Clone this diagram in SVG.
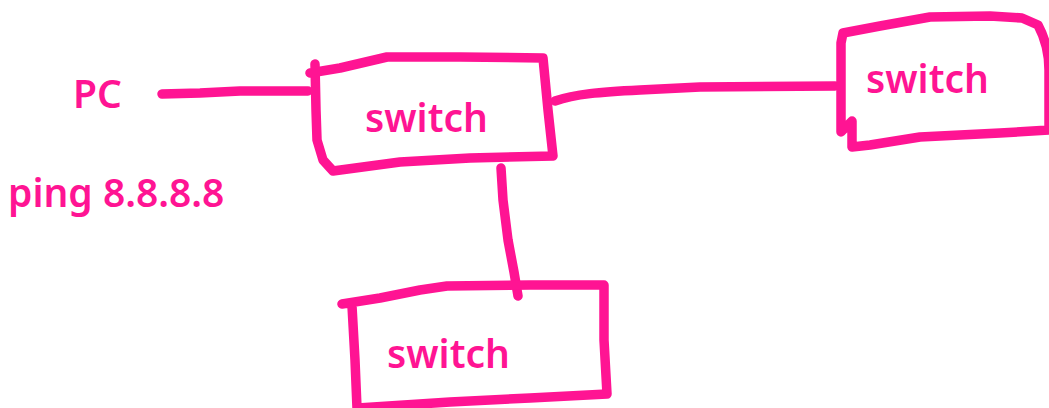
<svg xmlns="http://www.w3.org/2000/svg" width="1049" height="408" viewBox="0 0 1049 408">
  <style>
    .ink { fill: none; stroke: #ff1493; stroke-width: 9.5; stroke-linecap: round; stroke-linejoin: round; }
    .lbl { fill: #ff1493; font-family: "Noto Sans", "Open Sans", sans-serif; font-size: 39px; font-weight: 600; }
  </style>
  <rect width="1049" height="408" fill="#ffffff"/>

  <!-- labels beside the PC -->
  <g id="pc">
    <text class="lbl" x="73" y="108">PC</text>
  </g>
  <g id="ping-note">
    <text class="lbl" x="8" y="207">ping 8.8.8.8</text>
  </g>

  <!-- links between devices -->
  <g id="connectors">
    <path class="ink" d="M162,94 L200,93 L240,91 L308,91"/>
    <path class="ink" d="M555,101 C575,94 600,92 640,90 L700,87 L835,86"/>
    <path class="ink" d="M501,168 L503,200 L508,240 L514,272 L518,296"/>
  </g>

  <!-- central switch -->
  <g id="switch-main">
    <path class="ink" d="M310,73 L340,68 L387,57 L460,57 L543,58 L548,110 L553,156 L470,158 L400,162 L333,171 L323,160 L317,140 L316,110 L315,64"/>
    <text class="lbl" x="365" y="132">switch</text>
  </g>

  <!-- right-hand switch -->
  <g id="switch-right">
    <path class="ink" d="M841,43 L843,33 L880,26 L930,17 L990,16 L1022,18 L1038,25 C1046,40 1049,55 1049,70 L1049,130 L1000,133 L920,137 L870,145 L852,147 L852,121 L841,132 L841,43"/>
    <text class="lbl" x="866" y="93">switch</text>
  </g>

  <!-- lower switch -->
  <g id="switch-bottom">
    <path class="ink" d="M342,304 L380,298 L420,290 L447,286 L530,285 L604,285 L604,340 L607,394 L530,398 L450,402 L358,408 M352,306 L355,360 L357,408"/>
    <text class="lbl" x="387" y="368">switch</text>
  </g>
</svg>
